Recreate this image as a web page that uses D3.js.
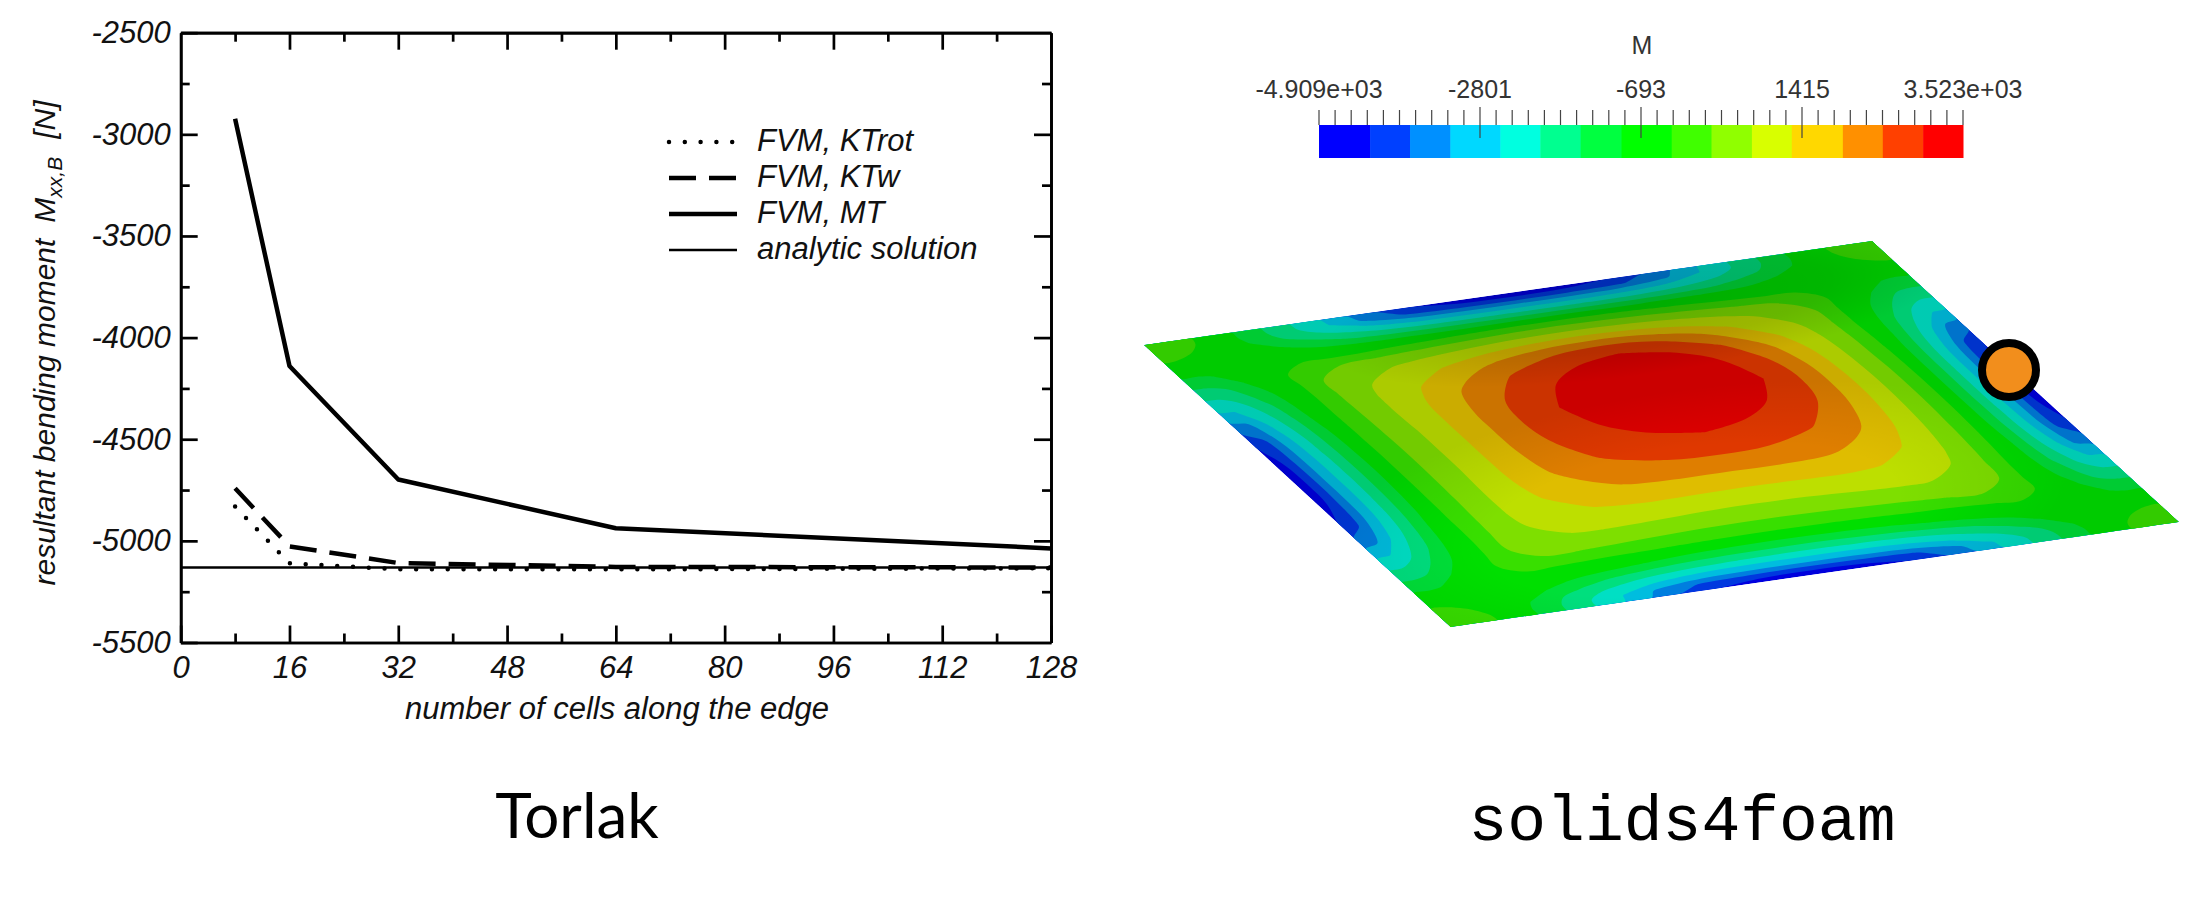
<!DOCTYPE html>
<html lang="en">
<head>
<meta charset="UTF-8">
<title>Torlak vs solids4foam</title>
<style>
  html, body { margin: 0; background: #fff; }
  svg { display: block; }
  .plot text { font-family: "Liberation Sans", sans-serif; font-style: italic; fill: #111; }
  .axis path, .axis line { stroke: #000; stroke-width: 2.7; }
  .bar text { font-family: "Liberation Sans", sans-serif; fill: #333; }
</style>
<script src="https://cdn.jsdelivr.net/npm/d3@7"></script>
</head>
<body>
<script>
// left panel
const cells = [8, 16, 32, 64, 128];
const ktRot = [-4831, -5110, -5140, -5140, -5135];
const ktW = [-4741, -5027, -5109, -5128, -5131];
const mt = [-2923, -4140, -4698, -4938, -5037];
const analytic = [-5131, -5131];
const analyticCells = [0, 128];
const xMajor = [0, 16, 32, 48, 64, 80, 96, 112, 128];
const xMinor = [8, 24, 40, 56, 72, 88, 104, 120];
const yMajor = [-5500, -5000, -4500, -4000, -3500, -3000, -2500];
const yMinor = [-5250, -4750, -4250, -3750, -3250, -2750];
const legendNames = ["FVM, KTrot", "FVM, KTw", "FVM, MT", "analytic solution"];

// right panel: colour bar
const barMin = -4909, barMax = 3523;
const barLabelValues = [-4909, -2801, -693, 1415, 3523];
const barLabels = ["-4.909e+03", "-2801", "-693", "1415", "3.523e+03"];
const barColors = ["#0000ff", "#0040ff", "#0090ff", "#00d8ff", "#00ffe0", "#00ff90", "#00ff40", "#00ff00",
                   "#40ff00", "#90ff00", "#d8ff00", "#ffd800", "#ff9000", "#ff4000", "#ff0000"];
// the bar's colour steps are drawn unevenly in the picture
const barEdges = [-4909, -4240, -3717, -3189, -2534, -2011, -1483, -948, -291, 230, 759, 1281, 1950, 2473, 3001, 3523];

// plate field: one quarter, estimated at these fractions from the edges
const gridPos = [0, .02, .04, .07, .1, .13, .16, .2, .25, .3, .36, .43, .5];
const liftPos = [0, .004, .016, .048, .095, .157, .232, .345, .5, .655, .816, .952, 1];
const moment = [
  [-280, -300, -340, -430, -720, -1100, -1536, -2099, -2800, -3600, -4300, -4750, -4909],
  [-300, -320, -360, -430, -720, -1090, -1520, -2070, -2720, -3400, -3900, -4050, -4100],
  [-340, -360, -380, -470, -700, -1010, -1400, -1880, -2330, -2750, -3050, -3170, -3180],
  [-430, -430, -470, -520, -590, -730, -950, -1260, -1640, -1850, -2030, -2110, -2130],
  [-720, -720, -700, -590, -560, -560, -640, -730, -850, -960, -1050, -1100, -1120],
  [-1100, -1090, -1010, -730, -560, -412, -420, -430, -440, -420, -410, -400, -400],
  [-1536, -1520, -1400, -950, -640, -420, 100, 130, 150, 170, 180, 190, 190],
  [-2099, -2070, -1880, -1260, -730, -430, 130, 460, 660, 740, 790, 800, 810],
  [-2800, -2720, -2330, -1640, -850, -440, 150, 660, 980, 1240, 1430, 1530, 1550],
  [-3600, -3400, -2750, -1850, -960, -420, 170, 740, 1240, 1600, 2020, 2260, 2330],
  [-4300, -3900, -3050, -2030, -1050, -410, 180, 790, 1430, 2020, 2480, 2820, 2961],
  [-4750, -4050, -3170, -2110, -1100, -400, 190, 800, 1530, 2260, 2820, 3220, 3350],
  [-4909, -4100, -3180, -2130, -1120, -400, 190, 810, 1550, 2330, 2961, 3350, 3523]
];

const width = 2207, height = 920;
const svg = d3.select("body").append("svg").attr("width", width).attr("height", height);
const defs = svg.append("defs");

// ---- left plot
const x = d3.scaleLinear([0, 128], [180.7, 1051]);
const y = d3.scaleLinear([-5500, -2500], [642.5, 32.7]);
const plot = svg.append("g").attr("class", "plot");
const lineGen = d3.line().x(d => x(d[0])).y(d => y(d[1]));

function addAxis(axis, tx, ty) {
  const g = plot.append("g").attr("class", "axis")
    .attr("transform", `translate(${tx},${ty})`).call(axis);
  g.selectAll("text").attr("font-size", 31).attr("fill", "#111");
  return g;
}
const noLabel = () => "";
addAxis(d3.axisBottom(x).tickValues(xMajor).tickSize(-17).tickSizeOuter(0).tickPadding(13), 0, 642.5)
  .selectAll("text").attr("dy", ".71em");
addAxis(d3.axisBottom(x).tickValues(xMinor).tickSize(-9).tickSizeOuter(0).tickFormat(noLabel), 0, 642.5);
addAxis(d3.axisTop(x).tickValues(xMajor.slice(1, -1)).tickSize(-17).tickSizeOuter(0).tickFormat(noLabel), 0, 32.7);
addAxis(d3.axisTop(x).tickValues(xMinor).tickSize(-9).tickSizeOuter(0).tickFormat(noLabel), 0, 32.7);
addAxis(d3.axisLeft(y).tickValues(yMajor).tickSize(-17).tickSizeOuter(0).tickPadding(10).tickFormat(d => String(d)), 180.7, 0);
addAxis(d3.axisLeft(y).tickValues(yMinor).tickSize(-9).tickSizeOuter(0).tickFormat(noLabel), 180.7, 0);
addAxis(d3.axisRight(y).tickValues(yMajor.slice(1, -1)).tickSize(-17).tickSizeOuter(0).tickFormat(noLabel), 1051, 0);
addAxis(d3.axisRight(y).tickValues(yMinor).tickSize(-9).tickSizeOuter(0).tickFormat(noLabel), 1051, 0);

// series styles, same order as the legend
const seriesStyle = [
  { width: 4.5, dash: "0 15.8", cap: "round" },
  { width: 4.5, dash: "27 13", cap: "butt" },
  { width: 4.5, dash: null, cap: "butt" },
  { width: 2.7, dash: null, cap: "butt" }
];
const seriesRows = [
  cells.map((c, i) => [c, ktRot[i]]),
  cells.map((c, i) => [c, ktW[i]]),
  cells.map((c, i) => [c, mt[i]]),
  analyticCells.map((c, i) => [c, analytic[i]])
];
plot.selectAll("path.series").data(seriesRows).join("path").attr("class", "series")
  .attr("d", lineGen).attr("fill", "none").attr("stroke", "#000")
  .attr("stroke-linejoin", "round")
  .attr("stroke-width", (d, i) => seriesStyle[i].width)
  .attr("stroke-dasharray", (d, i) => seriesStyle[i].dash)
  .attr("stroke-linecap", (d, i) => seriesStyle[i].cap);

// legend
const legendY = d3.scalePoint(legendNames, [142, 250]);
const legendG = plot.selectAll("g.key").data(legendNames).join("g").attr("class", "key")
  .attr("transform", d => `translate(0,${legendY(d)})`);
legendG.append("line").attr("x1", 669).attr("x2", 737)
  .attr("stroke", "#000")
  .attr("stroke-width", (d, i) => seriesStyle[i].width)
  .attr("stroke-dasharray", (d, i) => seriesStyle[i].dash)
  .attr("stroke-linecap", (d, i) => seriesStyle[i].cap);
legendG.append("text").attr("x", 757).attr("y", 9).attr("font-size", 31).text(d => d);

plot.append("text").attr("x", 617).attr("y", 719).attr("text-anchor", "middle")
  .attr("font-size", 31).text("number of cells along the edge");

const yTitle = plot.append("text").attr("transform", "translate(55,343) rotate(-90)")
  .attr("text-anchor", "middle").attr("font-size", 30);
yTitle.append("tspan").text("resultant bending moment");
yTitle.append("tspan").attr("dx", 16).text("M");
yTitle.append("tspan").attr("font-size", 21).attr("dy", 7).text("xx,B");
yTitle.append("tspan").attr("dx", 18).attr("dy", -7).text("[N]");

// ---- colour bar
const barX = d3.scaleLinear([barMin, barMax], [1319, 1963]);
const bar = svg.append("g").attr("class", "bar");
bar.selectAll("rect").data(barColors).join("rect")
  .attr("x", (d, i) => barX(barEdges[i]))
  .attr("width", (d, i) => barX(barEdges[i + 1]) - barX(barEdges[i]) + .5)
  .attr("y", 125).attr("height", 33).attr("fill", d => d);
const tickVals = d3.range(41).map(i => barMin + i * (barMax - barMin) / 40);
bar.selectAll("line").data(tickVals).join("line")
  .attr("x1", barX).attr("x2", barX)
  .attr("y1", (d, i) => i % 10 == 0 && i > 0 && i < 40 ? 107 : 110)
  .attr("y2", (d, i) => i % 10 == 0 && i > 0 && i < 40 ? 138 : 125)
  .attr("stroke", "#444").attr("stroke-width", 1.2);
bar.selectAll("text.lab").data(barLabelValues).join("text").attr("class", "lab")
  .attr("x", barX).attr("y", 98).attr("text-anchor", "middle").attr("font-size", 25)
  .text((d, i) => barLabels[i]);
bar.append("text").attr("x", 1642).attr("y", 54).attr("text-anchor", "middle").attr("font-size", 25).text("M");

// ---- plate
const L = [1144, 345], T = [1872, 241], R = [2179, 522], B = [1450.5, 627];
const liftPx = 50;
// mirror the quarter into the whole plate
const rowIdx = moment.map((r, i) => i).concat(moment.map((r, i) => i).reverse().slice(1));
const sFull = gridPos.concat(gridPos.slice(0, -1).reverse().map(s => 1 - s));
const liftFull = liftPos.concat(liftPos.slice(0, -1).reverse());
const nGrid = sFull.length;
const field = [];
rowIdx.forEach(r => rowIdx.forEach(c => field.push(moment[r][c])));

const toS = d3.scaleLinear(d3.range(nGrid), sFull).clamp(true);
const toLift = d3.scaleLinear(sFull, liftFull);
function platePoint(c) {
  const p = toS(c[0] - .5), q = toS(c[1] - .5);
  const px = (1 - q) * ((1 - p) * L[0] + p * T[0]) + q * ((1 - p) * B[0] + p * R[0]);
  const py = (1 - q) * ((1 - p) * L[1] + p * T[1]) + q * ((1 - p) * B[1] + p * R[1]);
  return [px, py - liftPx * toLift(p) * toLift(q)];
}
const levels = barEdges.slice(1, -1).map((d, i) => barMin + (i + 1) * (barMax - barMin) / barColors.length);
const contours = d3.contours().size([nGrid, nGrid]).thresholds(levels)(field);
const smooth = d3.line().curve(d3.curveCatmullRomClosed.alpha(.5));
const bandPath = mp => mp.coordinates.map(poly =>
  poly.map(ring => smooth(ring.slice(0, -1).map(platePoint))).join("")).join("");
const dim = c => d3.rgb(c).darker(.38);

const corners = d3.line()([L, T, R, B]) + "Z";
defs.append("clipPath").attr("id", "plateClip").append("path").attr("d", corners);
const plate = svg.append("g").attr("class", "plate").attr("clip-path", "url(#plateClip)");
plate.append("path").attr("d", corners).attr("fill", dim(barColors[0]));
plate.selectAll("path.band").data(contours).join("path").attr("class", "band")
  .attr("d", bandPath).attr("fill-rule", "evenodd").attr("fill", (d, i) => dim(barColors[i + 1]));

// lighting of the bent plate: brightest low in the middle, darkest on the far slope
function blob(id, cx, cy, rx, ry, stops) {
  const g = defs.append("radialGradient").attr("id", id).attr("gradientUnits", "userSpaceOnUse")
    .attr("cx", 0).attr("cy", 0).attr("r", 1)
    .attr("gradientTransform", `translate(${cx},${cy}) rotate(-8) scale(${rx},${ry})`);
  stops.forEach(s => g.append("stop").attr("offset", s[0]).attr("stop-color", "#000").attr("stop-opacity", s[1]));
}
blob("lightHole", 1690, 520, 380, 130, [[0, 0], [.55, 0], [1, .09]]);
blob("darkSlope", 1640, 305, 320, 70, [[0, .15], [.6, .1], [1, 0]]);
plate.append("path").attr("d", corners).attr("fill", "url(#lightHole)");
plate.append("path").attr("d", corners).attr("fill", "url(#darkSlope)");

svg.append("circle").attr("cx", 2009).attr("cy", 370).attr("r", 27)
  .attr("fill", "#f28e1c").attr("stroke", "#000").attr("stroke-width", 8);

// ---- captions
svg.append("text").attr("x", 577).attr("y", 838).attr("text-anchor", "middle")
  .attr("font-family", "Lato, sans-serif").attr("font-size", 62).attr("fill", "#000").text("Torlak");
svg.append("text").attr("x", 1682).attr("y", 840).attr("text-anchor", "middle")
  .attr("font-family", "'Liberation Mono', monospace").attr("font-size", 64.7).attr("fill", "#000").text("solids4foam");
</script>
</body>
</html>
